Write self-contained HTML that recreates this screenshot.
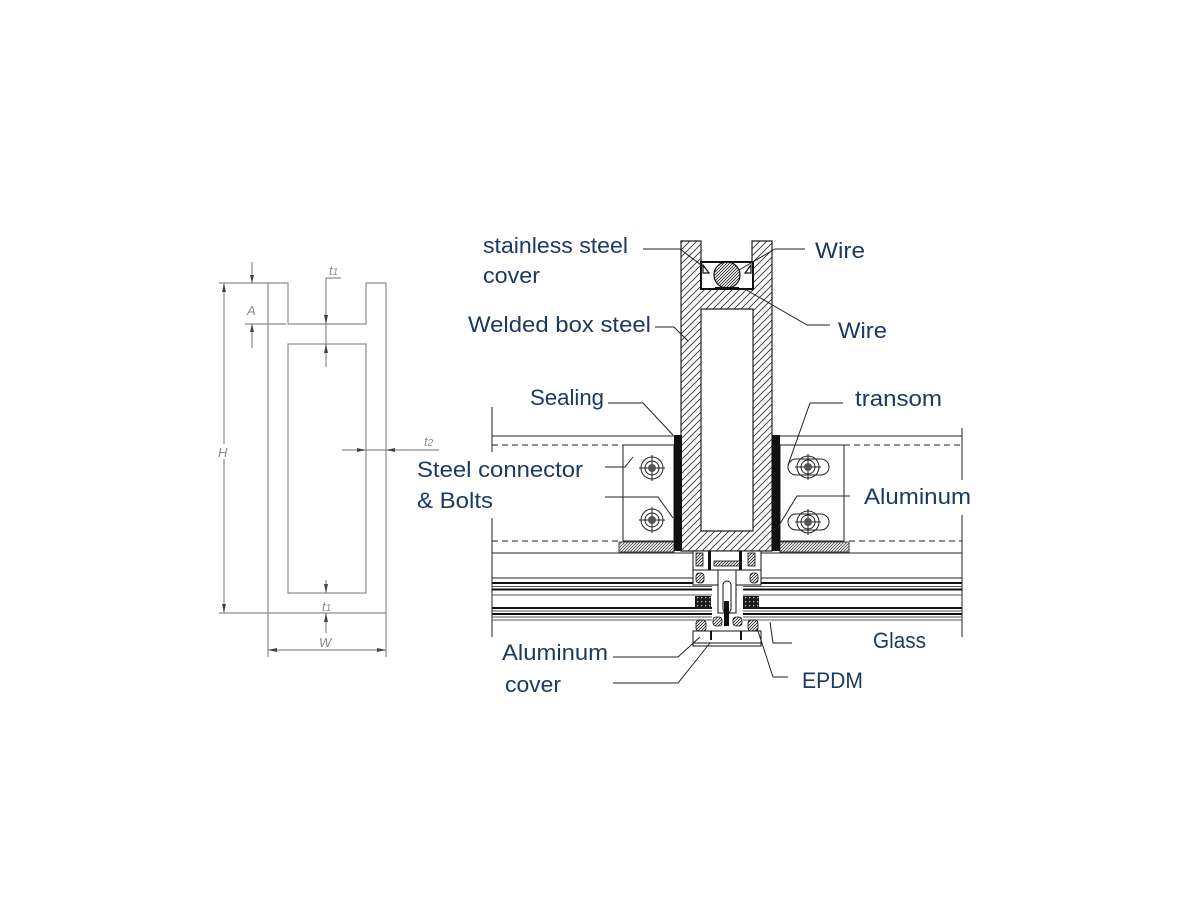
<!DOCTYPE html>
<html><head><meta charset="utf-8"><style>
html,body{margin:0;padding:0;background:#fff;}
svg{display:block}
.lbl{font-family:"Liberation Sans",sans-serif;font-size:22px;fill:#1a3a64;}
.dim{font-family:"Liberation Sans",sans-serif;font-size:13px;font-style:italic;fill:#8a8a8a;}
</style></head><body>
<svg width="1200" height="900" viewBox="0 0 1200 900" xmlns="http://www.w3.org/2000/svg">
<defs>
<pattern id="h" patternUnits="userSpaceOnUse" width="7" height="7">
<path d="M-1,1 L1,-1 M0,7 L7,0 M6,8 L8,6" stroke="#333" stroke-width="0.9"/>
</pattern>
<pattern id="h2" patternUnits="userSpaceOnUse" width="3" height="3">
<path d="M-1,1 L1,-1 M0,3 L3,0 M2,4 L4,2" stroke="#222" stroke-width="0.8"/>
</pattern>
<pattern id="dots" patternUnits="userSpaceOnUse" width="4" height="4">
<rect width="4" height="4" fill="#1a1a1a"/><rect x="1" y="1" width="1.3" height="1.3" fill="#bbb"/>
</pattern>
</defs>
<rect width="1200" height="900" fill="#fff"/>

<!-- LEFT DIAGRAM -->
<g stroke="#8c8c8c" stroke-width="1.2" fill="none">
<path d="M268,283 H288 V324 H366 V283 H386 V613 H268 Z"/>
<rect x="288" y="344" width="78" height="249"/>
<!-- H -->
<line x1="219" y1="283" x2="268" y2="283"/>
<line x1="219" y1="613" x2="268" y2="613"/>
<line x1="224" y1="283" x2="224" y2="444"/>
<line x1="224" y1="459" x2="224" y2="613"/>
<!-- A -->
<line x1="252" y1="262" x2="252" y2="283"/>
<line x1="252" y1="324" x2="252" y2="348"/>
<line x1="245" y1="324" x2="286" y2="324"/>
<!-- t1 top -->
<line x1="326" y1="278" x2="326" y2="367"/>
<line x1="326" y1="278" x2="341" y2="278"/>
<!-- t2 -->
<line x1="342" y1="450" x2="439" y2="450"/>
<!-- t1 bottom -->
<line x1="326" y1="580" x2="326" y2="593"/>
<line x1="326" y1="613" x2="326" y2="633"/>
<!-- W -->
<line x1="268" y1="613" x2="268" y2="657"/>
<line x1="386" y1="613" x2="386" y2="657"/>
<line x1="268" y1="650" x2="386" y2="650"/>
</g>
<g fill="#444">
<polygon points="224,283 222,292 226,292"/>
<polygon points="224,613 222,604 226,604"/>
<polygon points="252,283 250,275 254,275"/>
<polygon points="252,324 250,332 254,332"/>
<polygon points="326,324 324,315 328,315"/>
<polygon points="326,344 324,353 328,353"/>
<polygon points="366,450 357,448 357,452"/>
<polygon points="386,450 395,448 395,452"/>
<polygon points="326,593 324,584 328,584"/>
<polygon points="326,613 324,622 328,622"/>
<polygon points="268,650 277,648 277,652"/>
<polygon points="386,650 377,648 377,652"/>
</g>
<text class="dim" x="218" y="457" font-size="14">H</text>
<text class="dim" x="247" y="315" font-size="14">A</text>
<text class="dim" x="329" y="275">t<tspan font-size="10">1</tspan></text>
<text class="dim" x="424" y="446">t<tspan font-size="10">2</tspan></text>
<text class="dim" x="322" y="611">t<tspan font-size="10">1</tspan></text>
<text class="dim" x="319" y="647" font-size="14">W</text>

<!-- MAIN DIAGRAM: transom lines -->
<g stroke="#222" stroke-width="1" fill="none">
<line x1="492" y1="436" x2="674" y2="436"/>
<line x1="780" y1="436" x2="962" y2="436"/>
<line x1="492" y1="445" x2="623" y2="445" stroke-dasharray="6,4"/>
<line x1="844" y1="445" x2="962" y2="445" stroke-dasharray="6,4"/>
<line x1="492" y1="541" x2="619" y2="541" stroke-dasharray="6,4"/>
<line x1="849" y1="541" x2="962" y2="541" stroke-dasharray="6,4"/>
<line x1="492" y1="553" x2="693" y2="553"/>
<line x1="761" y1="553" x2="962" y2="553"/>
<line x1="492" y1="578" x2="693" y2="578"/>
<line x1="761" y1="578" x2="962" y2="578"/>
<!-- verticals -->
<line x1="492" y1="407" x2="492" y2="452"/>
<line x1="492" y1="518" x2="492" y2="637"/>
<line x1="962" y1="428" x2="962" y2="480"/>
<line x1="962" y1="515" x2="962" y2="637"/>
</g>
<!-- glass lines -->
<g fill="none">
<g stroke="#111" stroke-width="2">
<line x1="492" y1="583" x2="712" y2="583"/><line x1="743" y1="583" x2="962" y2="583"/>
<line x1="492" y1="589.5" x2="712" y2="589.5"/><line x1="743" y1="589.5" x2="962" y2="589.5"/>
<line x1="492" y1="608" x2="712" y2="608"/><line x1="743" y1="608" x2="962" y2="608"/>
<line x1="492" y1="614" x2="712" y2="614"/><line x1="743" y1="614" x2="962" y2="614"/>
</g>
<g stroke="#555" stroke-width="1">
<line x1="492" y1="586.5" x2="712" y2="586.5"/><line x1="743" y1="586.5" x2="962" y2="586.5"/>
<line x1="492" y1="595" x2="712" y2="595"/><line x1="743" y1="595" x2="962" y2="595"/>
<line x1="492" y1="611" x2="712" y2="611"/><line x1="743" y1="611" x2="962" y2="611"/>
<line x1="492" y1="617" x2="712" y2="617"/><line x1="743" y1="617" x2="962" y2="617"/>
<line x1="492" y1="620" x2="712" y2="620"/><line x1="743" y1="620" x2="962" y2="620"/>
</g>
</g>

<!-- connector plates -->
<g stroke="#222" stroke-width="1" fill="#fff">
<rect x="623" y="445" width="51" height="96"/>
<rect x="780" y="445" width="64" height="96"/>
</g>
<rect x="619" y="542" width="55" height="10" fill="url(#h2)" stroke="#222" stroke-width="1" opacity="0.85"/>
<rect x="780" y="542" width="69" height="10" fill="url(#h2)" stroke="#222" stroke-width="1" opacity="0.85"/>

<!-- bolts -->
<g stroke="#222" stroke-width="1" fill="none">
<rect x="788" y="459" width="41" height="16" rx="8"/>
<rect x="788" y="514" width="41" height="16" rx="8"/>
<circle cx="652" cy="468" r="11"/><circle cx="652" cy="468" r="7"/>
<circle cx="652" cy="520" r="11"/><circle cx="652" cy="520" r="7"/>
<circle cx="808" cy="467" r="11"/><circle cx="808" cy="467" r="7"/>
<circle cx="808" cy="522" r="11"/><circle cx="808" cy="522" r="7"/>
<path d="M639,468 H665 M652,455 V481 M639,520 H665 M652,507 V533 M795,467 H821 M808,454 V480 M795,522 H821 M808,509 V535"/>
</g>
<g fill="#555">
<circle cx="652" cy="468" r="4"/><circle cx="652" cy="520" r="4"/>
<circle cx="808" cy="467" r="4"/><circle cx="808" cy="522" r="4"/>
</g>

<!-- box steel -->
<path d="M681,241 H701 V289 H752 V241 H772 V551 H681 Z M701,309 H753 V531 H701 Z" fill="url(#h)" fill-rule="evenodd" stroke="#222" stroke-width="1.2"/>
<!-- wire holder -->
<rect x="701" y="262" width="52" height="27" fill="#fff" stroke="#111" stroke-width="2"/>
<circle cx="727" cy="275" r="13" fill="url(#h2)" stroke="#111" stroke-width="1.2"/>
<rect x="715" y="287" width="24" height="2.5" fill="#111"/>
<path d="M703,265 L709,273 L703,273 Z M751,265 L745,273 L751,273 Z" fill="#fff" stroke="#111" stroke-width="1.2"/>

<!-- sealing -->
<rect x="674" y="435" width="8" height="116" fill="#111"/>
<rect x="772" y="435" width="8" height="116" fill="#111"/>

<!-- bottom assembly -->
<g stroke="#111" stroke-width="1" fill="#fff">
<rect x="693" y="551" width="68" height="19"/>
<rect x="693" y="570" width="68" height="15"/>
<rect x="718" y="570" width="18" height="43"/>
<rect x="723" y="581" width="8" height="32" rx="4"/>
<rect x="693" y="631" width="68" height="15"/>
</g>
<g fill="url(#h2)" stroke="#111" stroke-width="0.8">
<rect x="696" y="553" width="7" height="13"/>
<rect x="748" y="553" width="7" height="13"/>
<rect x="714" y="561" width="27" height="5"/>
</g>
<g fill="#111">
<rect x="708" y="551" width="3" height="19"/>
<rect x="739" y="551" width="3" height="19"/>
<rect x="724" y="601" width="5" height="25"/>
<rect x="710" y="631" width="2" height="9"/>
<rect x="740" y="631" width="2" height="9"/>
</g>
<rect x="695" y="596" width="16" height="13" fill="url(#dots)"/>
<rect x="743" y="596" width="16" height="13" fill="url(#dots)"/>
<g fill="url(#h2)" stroke="#111" stroke-width="0.8">
<rect x="696" y="573" width="8" height="10" rx="3"/>
<rect x="750" y="573" width="8" height="10" rx="3"/>
<rect x="696" y="620" width="10" height="11" rx="3"/>
<rect x="748" y="620" width="10" height="11" rx="3"/>
<rect x="713" y="617" width="9" height="9" rx="3"/>
<rect x="733" y="617" width="9" height="9" rx="3"/>
</g>
<line x1="693" y1="643" x2="761" y2="643" stroke="#111" stroke-width="1"/>

<!-- leaders -->
<g stroke="#222" stroke-width="1" fill="none">
<path d="M643,249 H680 L705,268"/>
<path d="M805,249 H775 L739,270"/>
<path d="M830,325 H807 L743,288"/>
<path d="M655,327 H674 L688,341"/>
<path d="M608,403 H643 L673,435"/>
<path d="M843,403 H810 L788,465"/>
<path d="M605,467 H625 L633,457"/>
<path d="M605,497 H658 L673,518"/>
<path d="M850,496 H797 L778,527"/>
<path d="M792,643 H773 L770,622"/>
<path d="M613,657 H678 L700,637"/>
<path d="M613,683 H678 L710,643"/>
<path d="M788,677 H773 L757,628"/>
</g>

<!-- labels -->
<text class="lbl" x="483" y="253" textLength="145" lengthAdjust="spacingAndGlyphs">stainless steel</text>
<text class="lbl" x="483" y="283" textLength="57" lengthAdjust="spacingAndGlyphs">cover</text>
<text class="lbl" x="468" y="332" textLength="183" lengthAdjust="spacingAndGlyphs">Welded box steel</text>
<text class="lbl" x="815" y="258" textLength="50" lengthAdjust="spacingAndGlyphs">Wire</text>
<text class="lbl" x="838" y="338" textLength="49" lengthAdjust="spacingAndGlyphs">Wire</text>
<text class="lbl" x="530" y="405" textLength="74" lengthAdjust="spacingAndGlyphs">Sealing</text>
<text class="lbl" x="855" y="406" textLength="87" lengthAdjust="spacingAndGlyphs">transom</text>
<text class="lbl" x="417" y="477" textLength="166" lengthAdjust="spacingAndGlyphs">Steel connector</text>
<text class="lbl" x="417" y="508" textLength="76" lengthAdjust="spacingAndGlyphs">&amp; Bolts</text>
<text class="lbl" x="864" y="504" textLength="107" lengthAdjust="spacingAndGlyphs">Aluminum</text>
<text class="lbl" x="873" y="648" textLength="53" lengthAdjust="spacingAndGlyphs">Glass</text>
<text class="lbl" x="502" y="660" textLength="106" lengthAdjust="spacingAndGlyphs">Aluminum</text>
<text class="lbl" x="505" y="692" textLength="56" lengthAdjust="spacingAndGlyphs">cover</text>
<text class="lbl" x="802" y="688" textLength="61" lengthAdjust="spacingAndGlyphs">EPDM</text>
</svg>
</body></html>
